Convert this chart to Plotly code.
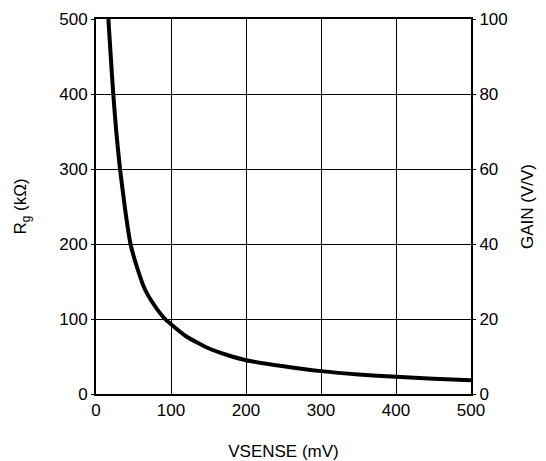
import plotly.graph_objects as go

# Data
vsense_mv = [16.5, 20, 23, 27, 32, 39, 46, 55, 65, 78, 92, 100, 120, 150, 175, 200, 250, 300, 350, 400, 450, 500]
rg_kohm = [500, 445, 400, 350, 300, 245, 200, 168, 140, 118, 100, 93, 77, 61, 52, 45, 37, 30.5, 26, 23, 20.5, 18.5]

x_ticks = [0, 100, 200, 300, 400, 500]
rg_ticks = [0, 100, 200, 300, 400, 500]
gain_ticks = [0, 20, 40, 60, 80, 100]

FONT = "Liberation Sans, Arial, sans-serif"
FS = 17

fig = go.Figure()
fig.add_trace(go.Scatter(
    x=vsense_mv, y=rg_kohm, mode="lines",
    line=dict(color="black", width=4, shape="spline", smoothing=0.5),
    showlegend=False, hoverinfo="skip",
))
# empty trace so the right-hand GAIN axis is drawn
fig.add_trace(go.Scatter(x=[], y=[], yaxis="y2", mode="lines",
                         showlegend=False, hoverinfo="skip"))

axis_common = dict(
    showline=True, linecolor="black", linewidth=2,
    gridcolor="black", gridwidth=1, zeroline=False, automargin=False,
    tickfont=dict(family=FONT, size=FS, color="black"),
    ticks="outside", ticklen=3, tickcolor="black", tickwidth=1,
)

fig.update_layout(
    width=546, height=461,
    margin=dict(l=96, r=75, t=19, b=67),
    paper_bgcolor="white", plot_bgcolor="white",
    font=dict(family=FONT, size=FS, color="black"),
    xaxis=dict(
        range=[0, 500], tickvals=x_ticks, mirror=True, showgrid=True,
        title=dict(text="VSENSE (mV)", font=dict(family=FONT, size=FS), standoff=26),
        **{**axis_common, "ticks": ""},
    ),
    yaxis=dict(
        range=[0, 500], tickvals=rg_ticks, mirror=True, showgrid=True,
        title=dict(text="R<sub>g</sub> (kΩ)", font=dict(family=FONT, size=FS), standoff=28),
        **axis_common,
    ),
    yaxis2=dict(
        range=[0, 100], tickvals=gain_ticks, overlaying="y", side="right",
        showgrid=False, anchor="x",
        title=dict(text="GAIN (V/V)", font=dict(family=FONT, size=FS), standoff=14),
        **{k: v for k, v in axis_common.items() if k not in ("gridcolor", "gridwidth")},
    ),
)

fig.write_html("out.html")
